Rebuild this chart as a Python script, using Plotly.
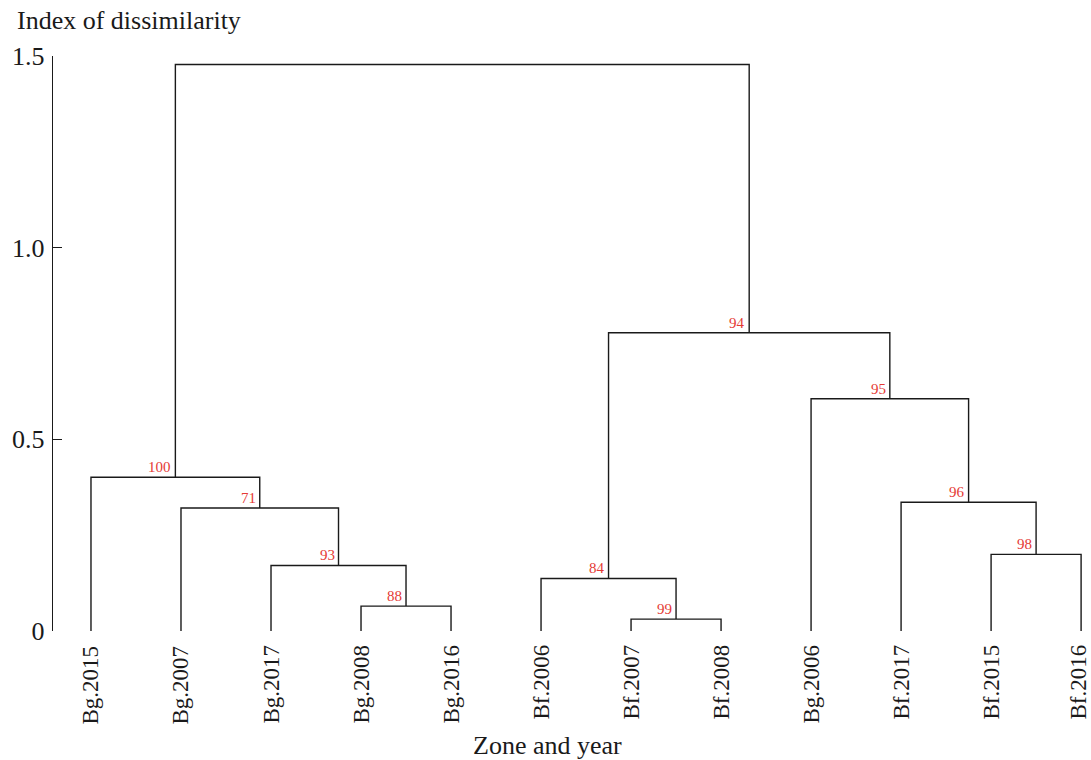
import plotly.graph_objects as go

# ---- data ----
leaf_labels = ["Bg.2015", "Bg.2007", "Bg.2017", "Bg.2008", "Bg.2016", "Bf.2006",
               "Bf.2007", "Bf.2008", "Bg.2006", "Bf.2017", "Bf.2015", "Bf.2016"]
# merges: children indices (0-11 leaves, 12+ earlier merges), height, support
merge_left = [3, 2, 1, 0, 6, 5, 10, 9, 8, 17, 15]
merge_right = [4, 12, 13, 14, 7, 16, 11, 18, 19, 20, 21]
merge_height = [0.065, 0.171, 0.321, 0.401, 0.031, 0.137, 0.200, 0.336, 0.606, 0.778, 1.478]
merge_support = [88, 93, 71, 100, 99, 84, 98, 96, 95, 94, None]
y_ticks = [0, 0.5, 1.0, 1.5]
y_tick_text = ["0", "0.5", "1.0", "1.5"]

# ---- build dendrogram segments ----
n = len(leaf_labels)
pos = {i: (i + 1, 0.0) for i in range(n)}
xs, ys = [], []
ann = []
for k, (a, b, h, s) in enumerate(zip(merge_left, merge_right, merge_height, merge_support)):
    xa, ya = pos[a]
    xb, yb = pos[b]
    xs += [xa, xa, xb, xb, None]
    ys += [ya, h, h, yb, None]
    xm = (xa + xb) / 2
    pos[n + k] = (xm, h)
    if s is not None:
        ann.append((xm, h, str(s)))

FONT = "Liberation Serif, Times New Roman, serif"
INK = "#1a1a1a"
W, H = 1091, 760
ML, MR, MT, MB = 53, 0, 56, 129
pw = W - ML - MR
ph = H - MT - MB


def px_x(p):
    return (p - ML) / pw


def px_y(p):
    return 1 - (p - MT) / ph


fig = go.Figure()
fig.add_trace(go.Scatter(x=xs, y=ys, mode="lines",
                         line=dict(color=INK, width=1.4),
                         hoverinfo="skip", showlegend=False))

annotations = []
for xm, h, s in ann:
    annotations.append(dict(x=xm, y=h, xref="x", yref="y", text=s, showarrow=False,
                            xanchor="right", yanchor="bottom", xshift=-2, yshift=0,
                            font=dict(family=FONT, size=15, color="#e53a35")))

# leaf labels (rotated)
for i, lab in enumerate(leaf_labels):
    annotations.append(dict(x=i + 1, y=px_y(644), xref="x", yref="paper", text=lab,
                            showarrow=False, textangle=-90, xanchor="center", yanchor="top",
                            xshift=-3 if i == n - 1 else 0, borderpad=0,
                            font=dict(family=FONT, size=23, color=INK)))

annotations.append(dict(x=px_x(15), y=px_y(21), xref="paper", yref="paper",
                        text="Index of dissimilarity", showarrow=False,
                        xanchor="left", yanchor="middle",
                        font=dict(family=FONT, size=26, color=INK)))
annotations.append(dict(x=px_x(547), y=px_y(745), xref="paper", yref="paper",
                        text="Zone and year", showarrow=False,
                        xanchor="center", yanchor="middle",
                        font=dict(family=FONT, size=26, color=INK)))

fig.update_layout(
    width=W, height=H,
    margin=dict(l=ML, r=MR, t=MT, b=MB, pad=0),
    paper_bgcolor="white", plot_bgcolor="white",
    annotations=annotations,
    xaxis=dict(range=[0.578, 12.11], showticklabels=False, showline=False, showgrid=False,
               zeroline=False, ticks=""),
    yaxis=dict(range=[0, 1.5], tickmode="array", tickvals=y_ticks, ticktext=y_tick_text,
               showline=True, linecolor=INK, linewidth=1.4,
               ticks="inside", ticklen=9, tickwidth=1.4, tickcolor=INK,
               showgrid=False, zeroline=False, ticklabelstandoff=2,
               tickfont=dict(family=FONT, size=26, color=INK)),
)

fig.write_html("out.html", config={"displayModeBar": False},
               post_script="document.body.style.margin='0';")
